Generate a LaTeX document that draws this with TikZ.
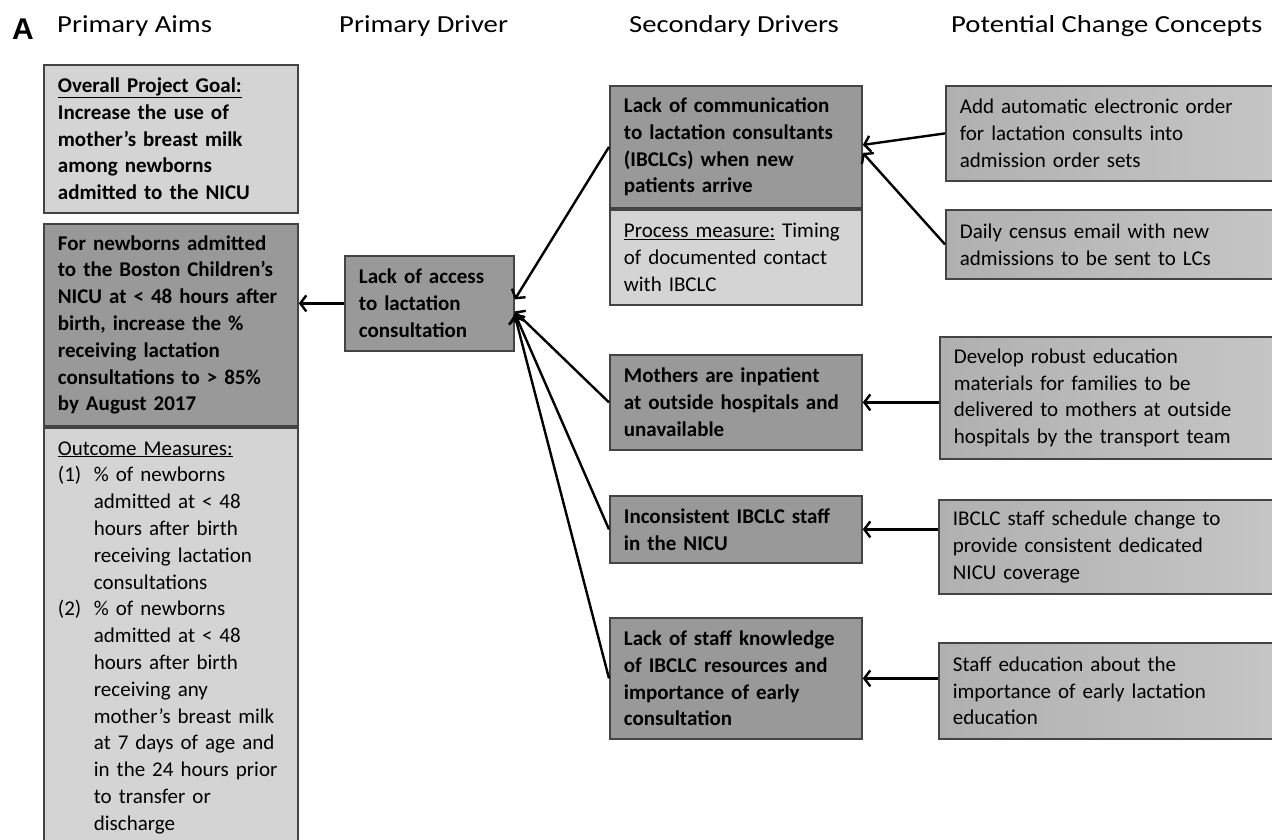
\documentclass[tikz,border=0pt]{standalone}
\usepackage{fontspec}
\setmainfont{Carlito}
\newfontfamily\letterfont{Liberation Sans}
\newfontfamily\headfont[FakeStretch=1.17]{Carlito}
\usepackage{tikz}
\usetikzlibrary{arrows.meta,positioning}
\definecolor{drvdark}{RGB}{153,153,153}
\definecolor{cptleft}{RGB}{176,176,176}
\definecolor{cptright}{RGB}{198,198,198}
\definecolor{msrlight}{RGB}{212,212,212}
\definecolor{boxline}{RGB}{68,68,68}
\lefthyphenmin=64
\newcommand\boxfont{\fontsize{21}{26.8}\selectfont\spaceskip=0.17em plus 0.1em minus 0.05em\relax}

\begin{document}
\begin{tikzpicture}[x=1pt, y=-1pt,
  box/.style={draw=boxline, line width=1.8pt, anchor=north west, align=left,
    inner xsep=14pt, inner ysep=0pt, font=\boxfont},
  boldtext/.style={font=\boxfont\bfseries},
  darkbox/.style={box, boldtext, fill=drvdark},
  lightbox/.style={box, fill=msrlight},
  midbox/.style={box, left color=cptleft, right color=cptright},
  head/.style={anchor=base west, inner sep=0pt, font=\headfont\fontsize{24.5}{28}\selectfont},
  link/.style={line width=2.4pt, -{Straight Barb[length=6pt,width=16pt]}}]

  \useasboundingbox (0,0) rectangle (1272,840);

  % Column headings
  \node[anchor=base west, font=\letterfont\fontsize{30}{34}\selectfont\bfseries, inner sep=0pt] (panel) at (12,40) {A};
  \node[head] (hAims) at (57,33) {Primary Aims};
  \node[head] (hDriver) at (339,33) {Primary Driver};
  \node[head] (hSecond) at (629,33) {Secondary Drivers};
  \node[head] (hChange) at (951,33) {Potential Change Concepts};

  % Primary aims
  \node[lightbox, boldtext, text width=226pt, minimum height=148pt] (goal) at (43,64)
    {\underline{Overall Project Goal:}\\ Increase the use of\\ mother’s breast milk\\ among newborns\\ admitted to the NICU};
  \node[darkbox, text width=226pt, minimum height=202pt] (aim) at (43,223)
    {For newborns admitted\\ to the Boston Children’s\\ NICU at < 48 hours after\\ birth, increase the \%\\ receiving lactation\\ consultations to > 85\%\\ by August 2017};
  \node[lightbox, text width=226pt, minimum height=420pt] (outcome) at (aim.south west)
    {\underline{Outcome Measures:}\\
     \makebox[36pt][l]{(1)}\% of newborns\\ \hspace*{36pt}admitted at < 48\\ \hspace*{36pt}hours after birth\\
     \hspace*{36pt}receiving lactation\\ \hspace*{36pt}consultations\\
     \makebox[36pt][l]{(2)}\% of newborns\\ \hspace*{36pt}admitted at < 48\\ \hspace*{36pt}hours after birth\\
     \hspace*{36pt}receiving any\\ \hspace*{36pt}mother’s breast milk\\ \hspace*{36pt}at 7 days of age and\\
     \hspace*{36pt}in the 24 hours prior\\ \hspace*{36pt}to transfer or\\ \hspace*{36pt}discharge};

  % Primary driver
  \node[darkbox, text width=141pt, minimum height=95pt] (driver) at (344,255)
    {Lack of access\\ to lactation\\ consultation};

  % Secondary drivers
  \node[darkbox, text width=224pt, minimum height=122pt] (sec1) at (609,85)
    {Lack of communication\\ to lactation consultants\\ (IBCLCs) when new\\ patients arrive};
  \node[lightbox, text width=224pt, minimum height=95pt] (proc) at (sec1.south west)
    {\underline{Process measure:} Timing\\ of documented contact\\ with IBCLC};
  \node[darkbox, text width=224pt, minimum height=95pt] (sec2) at (609,354)
    {Mothers are inpatient\\ at outside hospitals and\\ unavailable};
  \node[darkbox, text width=224pt, minimum height=67pt] (sec3) at (609,495)
    {Inconsistent IBCLC staff\\ in the NICU};
  \node[darkbox, text width=224pt, minimum height=121pt] (sec4) at (609,617)
    {Lack of staff knowledge\\ of IBCLC resources and\\ importance of early\\ consultation};

  % Change concepts
  \node[midbox, text width=312pt, minimum height=95pt] (chg1) at (945,85)
    {Add automatic electronic order\\ for lactation consults into\\ admission order sets};
  \node[midbox, text width=312pt, minimum height=69pt] (chg2) at (945,209)
    {Daily census email with new\\ admissions to be sent to LCs};
  \node[midbox, text width=318pt, minimum height=122pt] (chg3) at (939,336)
    {Develop robust education\\ materials for families to be\\ delivered to mothers at outside\\ hospitals by the transport team};
  \node[midbox, text width=318pt, minimum height=94pt] (chg4) at (938,499)
    {IBCLC staff schedule change to\\ provide consistent dedicated\\ NICU coverage};
  \node[midbox, text width=318pt, minimum height=96pt] (chg5) at (938,642)
    {Staff education about the\\ importance of early lactation\\ education};

  % Arrows
  \draw[link] (driver.west) -- (driver.west -| aim.east);
  \draw[link] (sec1.west) -- ([yshift=4pt]driver.east);
  \draw[link] (sec2.west) -- ([yshift=-8pt]driver.east);
  \draw[link] (sec3.west) -- ([yshift=-10pt]driver.east);
  \draw[link] (sec4.west) -- ([yshift=-12pt]driver.east);
  \draw[link] (chg1.west) -- ([yshift=2pt]sec1.east);
  \draw[link] (chg2.west) -- ([yshift=-6pt]sec1.east);
  \draw[link] (chg3.west |- sec2.east) -- (sec2.east);
  \draw[link] (chg4.west |- sec3.east) -- (sec3.east);
  \draw[link] (chg5.west |- sec4.east) -- (sec4.east);
\end{tikzpicture}
\end{document}
